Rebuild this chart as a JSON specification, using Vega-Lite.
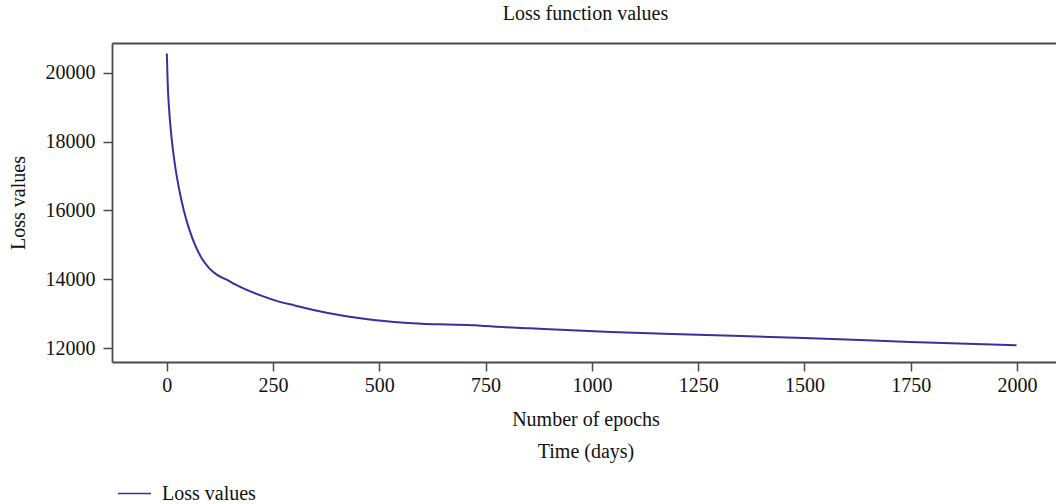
{
  "$schema": "https://vega.github.io/schema/vega-lite/v6.json",
  "autosize": "none",
  "padding": {"left": 112, "top": 43, "right": 0, "bottom": 142},
  "width": 947,
  "height": 319,
  "title": {"text": "Loss function values", "font": "Liberation Serif", "fontSize": 20, "fontWeight": "normal", "color": "#111", "offset": 19},
  "config": {
    "view": {"stroke": null},
    "axis": {"grid": false, "domainColor": "#4a4a4a", "domainWidth": 1.8, "tickColor": "#4a4a4a", "tickWidth": 1.5, "tickSize": 9, "labelFont": "Liberation Serif", "labelFontSize": 20, "labelColor": "#111", "titleFont": "Liberation Serif", "titleFontSize": 20, "titleFontWeight": "normal", "titleColor": "#111"},
    "legend": {"labelFont": "Liberation Serif", "labelFontSize": 20, "labelColor": "#111"}
  },
  "data": {"values": [
    {"epoch": 0, "loss": 20560},
    {"epoch": 2, "loss": 19700},
    {"epoch": 5, "loss": 19000},
    {"epoch": 10, "loss": 18250},
    {"epoch": 15, "loss": 17700},
    {"epoch": 20, "loss": 17250},
    {"epoch": 30, "loss": 16550},
    {"epoch": 40, "loss": 16000},
    {"epoch": 50, "loss": 15560},
    {"epoch": 60, "loss": 15200},
    {"epoch": 70, "loss": 14900},
    {"epoch": 80, "loss": 14660},
    {"epoch": 90, "loss": 14470},
    {"epoch": 100, "loss": 14320},
    {"epoch": 115, "loss": 14160},
    {"epoch": 130, "loss": 14050},
    {"epoch": 142, "loss": 13985},
    {"epoch": 160, "loss": 13860},
    {"epoch": 180, "loss": 13740},
    {"epoch": 222, "loss": 13530},
    {"epoch": 260, "loss": 13370},
    {"epoch": 300, "loss": 13245},
    {"epoch": 376, "loss": 13030},
    {"epoch": 455, "loss": 12870},
    {"epoch": 534, "loss": 12765},
    {"epoch": 600, "loss": 12710},
    {"epoch": 660, "loss": 12690},
    {"epoch": 725, "loss": 12668},
    {"epoch": 750, "loss": 12645},
    {"epoch": 855, "loss": 12580},
    {"epoch": 1045, "loss": 12470},
    {"epoch": 1250, "loss": 12390},
    {"epoch": 1500, "loss": 12300},
    {"epoch": 1750, "loss": 12185},
    {"epoch": 1999, "loss": 12086}
  ]},
  "layer": [
    {
      "mark": {"type": "line", "strokeWidth": 2, "interpolate": "monotone"},
      "encoding": {
        "x": {"field": "epoch", "type": "quantitative", "scale": {"domain": [-129, 2099], "nice": false, "zero": false},
          "axis": {"values": [0, 250, 500, 750, 1000, 1250, 1500, 1750, 2000], "format": "d", "labelPadding": 4, "title": ["Number of epochs", "Time (days)"], "titleLineHeight": 32, "titlePadding": 14}},
        "y": {"field": "loss", "type": "quantitative", "scale": {"domain": [11602, 20862], "nice": false, "zero": false},
          "axis": {"values": [12000, 14000, 16000, 18000, 20000], "format": "d", "labelPadding": 8, "title": "Loss values", "titlePadding": 17}},
        "color": {"datum": "Loss values", "type": "nominal", "scale": {"range": ["#3b2f9e"]},
          "legend": {"title": null, "orient": "none", "legendX": 5, "legendY": 433, "symbolType": "stroke", "symbolSize": 1089, "symbolStrokeWidth": 1.5, "labelOffset": 10}}
      }
    },
    {
      "mark": {"type": "line", "opacity": 0},
      "encoding": {
        "x": {"field": "epoch", "type": "quantitative", "axis": {"orient": "top", "labels": false, "ticks": false, "title": null, "domain": true}},
        "y": {"field": "loss", "type": "quantitative"}
      }
    }
  ],
  "resolve": {"axis": {"x": "independent"}}
}
